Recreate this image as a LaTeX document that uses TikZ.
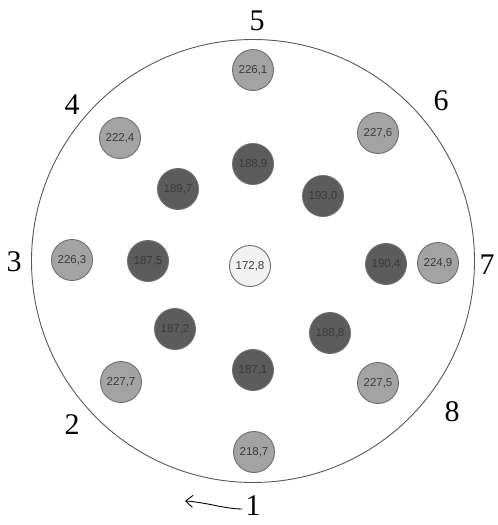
\documentclass[tikz,border=0pt]{standalone}
\usepackage{fontspec}
\setmainfont{Liberation Serif}
\newfontfamily\valfont{Liberation Sans}
\usetikzlibrary{arrows.meta}
\definecolor{outerfill}{HTML}{A3A3A3}
\definecolor{innerfill}{HTML}{5C5C5C}
\definecolor{centerfill}{HTML}{F2F2F2}
\definecolor{rimcol}{HTML}{6E6E6E}
\definecolor{valtext}{HTML}{3A3A3A}
\begin{document}
\begin{tikzpicture}[x=1pt,y=-1pt,
  dot/.style={circle,draw=rimcol,line width=0.9pt,minimum size=41pt,inner sep=0pt,
    font=\valfont\fontsize{11.5}{12}\selectfont,text=valtext},
  outerdot/.style={dot,fill=outerfill},
  innerdot/.style={dot,fill=innerfill},
  centerdot/.style={dot,fill=centerfill},
  numlab/.style={font=\fontsize{30}{30}\selectfont,inner sep=0pt}]
\useasboundingbox (0,0) rectangle (498,525);
\node[circle,draw=rimcol!80!black,line width=0.9pt,minimum size=443pt,inner sep=0pt] (rim) at (253,261) {};
% outer ring
\node[outerdot] (p5) at (253,70) {226,1};
\node[outerdot] (p4) at (120,138) {222,4};
\node[outerdot] (p6) at (378,133) {227,6};
\node[outerdot] (p3) at (72,260) {226,3};
\node[outerdot] (p7) at (438,263) {224,9};
\node[outerdot] (p2) at (121,382) {227,7};
\node[outerdot] (p8) at (378,383) {227,5};
\node[outerdot] (p1) at (254,452) {218,7};
% inner ring
\node[innerdot] (q5) at (253,164) {188,9};
\node[innerdot] (q4) at (178,189) {189,7};
\node[innerdot] (q6) at (323,196) {193,0};
\node[innerdot] (q3) at (148,261) {187,5};
\node[innerdot] (q7) at (386,264) {190,4};
\node[innerdot] (q2) at (175,329) {187,2};
\node[innerdot] (q8) at (330,333) {188,8};
\node[innerdot] (q1) at (253,370) {187,1};
% centre
\node[centerdot] (c) at (250,266) {172,8};
% numbers
\node[numlab] (n5) at (257,21) {5};
\node[numlab] (n4) at (72,105) {4};
\node[numlab] (n6) at (441,101) {6};
\node[numlab] (n3) at (14,262) {3};
\node[numlab] (n7) at (487,265) {7};
\node[numlab] (n2) at (72,425) {2};
\node[numlab] (n8) at (452,412) {8};
\node[numlab] (n1) at (253,506) {1};
\coordinate (arrowend) at (185,501);
\draw[line width=0.9pt,-{Straight Barb[length=7pt,width=12pt]}] (n1.west) ++(-3,3) .. controls (225,509) and (205,502) .. (arrowend);
\end{tikzpicture}
\end{document}
